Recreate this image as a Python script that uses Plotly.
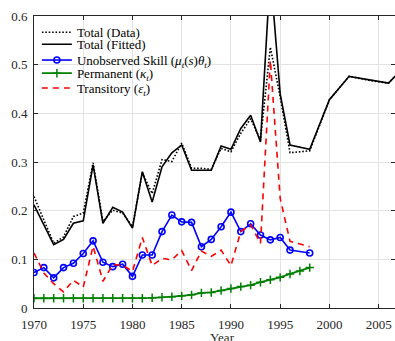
import plotly.graph_objects as go

# ---- data ----
years_total = list(range(1970, 1997)) + [1998, 2000, 2002, 2004, 2006, 2008]
total_data = [0.229, 0.181, 0.133, 0.146, 0.188, 0.195, 0.298, 0.178, 0.201, 0.195,
              0.167, 0.278, 0.235, 0.305, 0.301, 0.339, 0.287, 0.287, 0.285, 0.328,
              0.321, 0.359, 0.389, 0.345, 0.536, 0.434, 0.319, 0.323,
              0.428, 0.476, 0.468, 0.462, 0.504]
total_fitted = [0.212, 0.171, 0.130, 0.141, 0.174, 0.179, 0.294, 0.174, 0.207, 0.197,
                0.164, 0.280, 0.218, 0.290, 0.319, 0.335, 0.283, 0.283, 0.283, 0.333,
                0.326, 0.369, 0.396, 0.341, 0.690, 0.440, 0.335, 0.326,
                0.428, 0.476, 0.469, 0.462, 0.504]

years_comp = list(range(1970, 1997)) + [1998]
unobserved_skill = [0.073, 0.083, 0.062, 0.083, 0.092, 0.112, 0.138, 0.094, 0.085, 0.090,
                    0.065, 0.109, 0.109, 0.157, 0.191, 0.177, 0.176, 0.126, 0.141, 0.167,
                    0.197, 0.157, 0.173, 0.150, 0.140, 0.145, 0.119, 0.113]
transitory = [0.113, 0.072, 0.050, 0.033, 0.057, 0.043, 0.127, 0.055, 0.089, 0.088,
              0.075, 0.145, 0.087, 0.102, 0.099, 0.118, 0.077, 0.117, 0.106, 0.119,
              0.087, 0.157, 0.171, 0.133, 0.509, 0.225, 0.137, 0.126]

years_perm = list(range(1970, 1999))
permanent = [0.020, 0.020, 0.020, 0.020, 0.020, 0.020, 0.020, 0.020, 0.020, 0.020,
             0.020, 0.020, 0.021, 0.022, 0.023, 0.025, 0.027, 0.031, 0.032, 0.036,
             0.040, 0.044, 0.047, 0.053, 0.058, 0.063, 0.070, 0.076, 0.083]

x_ticks = [1970, 1975, 1980, 1985, 1990, 1995, 2000, 2005]
y_ticks = [0, 0.1, 0.2, 0.3, 0.4, 0.5, 0.6]
y_tick_labels = ["0", "0.1", "0.2", "0.3", "0.4", "0.5", "0.6"]

FONT = "Liberation Serif"
AX = "#262626"

fig = go.Figure()
fig.add_trace(go.Scatter(x=years_total, y=total_data, mode="lines", name="Total (Data)",
                         legend="legend",
                         line=dict(color="black", width=1.6, dash="1.6px,1.8px")))
fig.add_trace(go.Scatter(x=years_total, y=total_fitted, mode="lines", name="Total (Fitted)",
                         legend="legend2",
                         line=dict(color="black", width=1.6)))
fig.add_trace(go.Scatter(x=years_comp, y=unobserved_skill, mode="lines+markers",
                         name="Unobserved Skill (<i>μ<sub>t</sub></i>(<i>s</i>)<i>θ<sub>t</sub></i>)",
                         legend="legend3",
                         line=dict(color="#0000ff", width=1.6),
                         marker=dict(symbol="circle-open", size=6, color="#0000ff",
                                     line=dict(width=1.6, color="#0000ff"))))
fig.add_trace(go.Scatter(x=years_perm, y=permanent, mode="lines+markers",
                         name="Permanent (<i>κ<sub>t</sub></i>)",
                         legend="legend4",
                         line=dict(color="#008000", width=1.8),
                         marker=dict(symbol="cross-thin-open", size=6, color="#008000",
                                     line=dict(width=1.5, color="#008000"))))
fig.add_trace(go.Scatter(x=years_comp, y=transitory, mode="lines",
                         name="Transitory (<i>ε<sub>t</sub></i>)",
                         legend="legend5",
                         line=dict(color="#ff0000", width=1.6, dash="6px,5px")))


def leg(ypos):
    return dict(x=0.008, y=ypos, xanchor="left", yanchor="middle",
                bgcolor="rgba(0,0,0,0)", borderwidth=0,
                font=dict(family=FONT, size=13, color="black"),
                itemwidth=30)


fig.update_layout(
    width=395, height=341,
    margin=dict(l=34, r=0, t=16, b=33, autoexpand=False),
    paper_bgcolor="white", plot_bgcolor="white",
    font=dict(family=FONT, size=13, color=AX),
    showlegend=True,
    legend=leg(0.944), legend2=leg(0.903), legend3=leg(0.849),
    legend4=leg(0.804), legend5=leg(0.753),
    xaxis=dict(range=[1970, 2006.66], tickvals=x_ticks, showgrid=True, gridcolor="#e3e3e3",
               gridwidth=1, showline=True, linecolor=AX, linewidth=1, mirror="ticks",
               ticks="inside", ticklen=4, tickcolor=AX, zeroline=False, automargin=False,
               ticklabelstandoff=4,
               tickfont=dict(family=FONT, size=13, color=AX)),
    yaxis=dict(range=[0, 0.6], tickvals=y_ticks, ticktext=y_tick_labels, showgrid=True,
               gridcolor="#e3e3e3", gridwidth=1, showline=True, linecolor=AX, linewidth=1,
               mirror="ticks", ticks="inside", ticklen=4, tickcolor=AX, zeroline=False,
               automargin=False, ticklabelstandoff=3,
               tickfont=dict(family=FONT, size=13, color=AX)),
    annotations=[dict(text="Year", x=1989.1, y=0, xref="x", yref="paper",
                      yshift=-29, yanchor="middle", showarrow=False,
                      font=dict(family=FONT, size=13, color=AX))],
)

fig.write_html("out.html", config={"displayModeBar": False},
               post_script="document.body.style.margin='0';document.body.style.overflow='hidden';")
